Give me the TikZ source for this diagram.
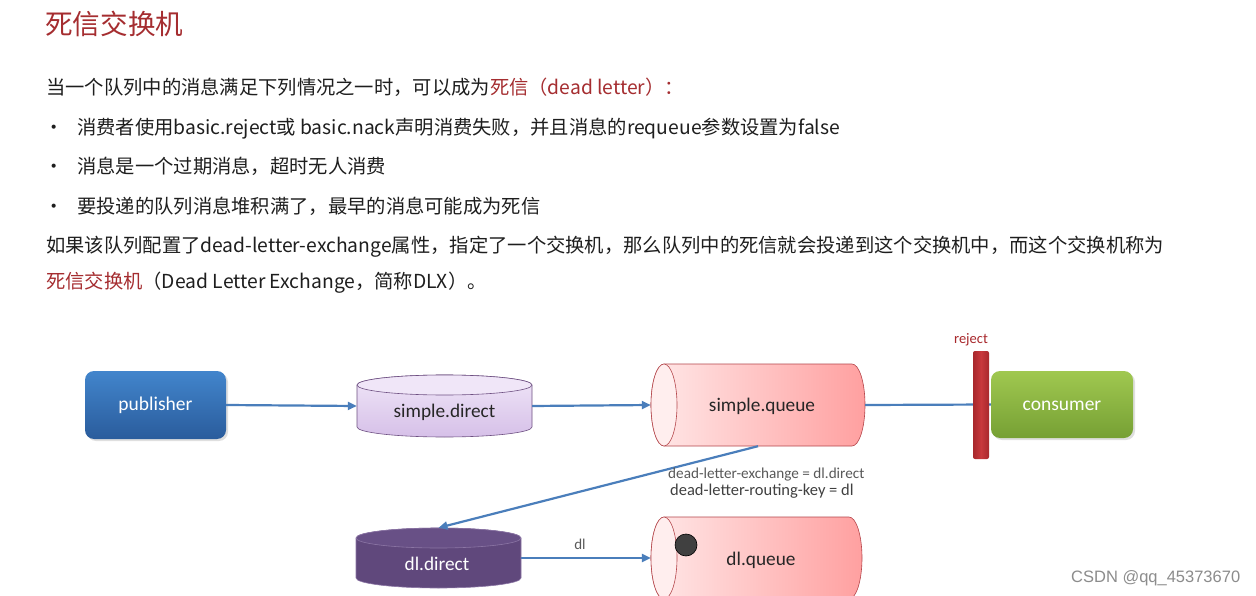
\documentclass[tikz,border=0pt]{standalone}
\usepackage{fontspec}
\setmainfont{Noto Sans CJK SC}
\newfontfamily\diagfont{Carlito}
\newfontfamily\wmfont{Liberation Sans}
\usetikzlibrary{arrows.meta,shadows}
\definecolor{titlered}{RGB}{165,45,48}
\definecolor{txt}{RGB}{30,30,30}
\definecolor{connblue}{RGB}{74,126,187}
\definecolor{pubtop}{RGB}{66,133,204}
\definecolor{pubbot}{RGB}{42,92,156}
\definecolor{constop}{RGB}{160,200,80}
\definecolor{consbot}{RGB}{118,160,52}
\definecolor{rejred}{RGB}{200,56,60}
\definecolor{rejdark}{RGB}{168,40,44}
\definecolor{qborder}{RGB}{180,70,75}
\definecolor{qlight}{RGB}{255,232,232}
\definecolor{qdark}{RGB}{255,160,160}
\definecolor{qface}{RGB}{255,238,238}
\definecolor{sdtop}{RGB}{240,230,248}
\definecolor{sdbot}{RGB}{214,192,232}
\definecolor{sdborder}{RGB}{110,80,130}
\definecolor{ddfill}{RGB}{96,72,124}
\definecolor{ddface}{RGB}{104,80,134}
\definecolor{ddborder}{RGB}{140,118,165}
\begin{document}
\begin{tikzpicture}[x=1pt,y=-1pt,
  bodytext/.style={anchor=base west, inner sep=0pt, font=\fontsize{19.3}{23}\selectfont, text=txt},
  conn/.style={draw=connblue, line width=2.2pt, -{Triangle[length=9pt,width=8pt]}},
  plainconn/.style={draw=connblue, line width=2.2pt},
  boxnode/.style={rounded corners=9pt, inner sep=0pt, text=white,
    font=\diagfont\fontsize{19.5}{21}\selectfont, text height=1.25em, text depth=0.1em,
    drop shadow={opacity=0.25, shadow xshift=2pt, shadow yshift=-2pt}},
  helper/.style={inner sep=0pt},
  dtext/.style={inner sep=0pt, font=\diagfont\fontsize{19.3}{21}\selectfont, text height=1.25em, text depth=0.1em},
  qbody/.style={left color=qlight, right color=qdark, draw=qborder, line width=0.6pt},
  qface/.style={fill=qface, draw=qborder, line width=0.6pt}
]
\useasboundingbox (0,0) rectangle (1256,596);
\fill[white] (0,0) rectangle (1256,596);

% ---------- text ----------
\node[anchor=base west, inner sep=0pt, font=\fontsize{27.6}{32}\selectfont, text=titlered] (title) at (45,35) {死信交换机};
\node[bodytext] (t1) at (46,95) {当一个队列中的消息满足下列情况之一时，可以成为\textcolor{titlered}{死信（dead letter）：}};
\node[bodytext] (b1) at (44,135) {•};
\node[bodytext] (t2) at (77,135) {消费者使用basic.reject或 basic.nack声明消费失败，并且消息的requeue参数设置为false};
\node[bodytext] (b2) at (44,174) {•};
\node[bodytext] (t3) at (77,174) {消息是一个过期消息，超时无人消费};
\node[bodytext] (b3) at (44,214) {•};
\node[bodytext] (t4) at (77,214) {要投递的队列消息堆积满了，最早的消息可能成为死信};
\node[bodytext] (t5) at (46,253) {如果该队列配置了dead-letter-exchange属性，指定了一个交换机，那么队列中的死信就会投递到这个交换机中，而这个交换机称为};
\node[bodytext] (t6) at (46,288) {\textcolor{titlered}{死信交换机}（Dead Letter Exchange，简称DLX）。};

% ---------- shapes ----------
% simple.direct (vertical cylinder)
\path[top color=sdtop, bottom color=sdbot, draw=sdborder, line width=0.6pt]
  (357,385) -- (357,427) arc[start angle=180,end angle=360,x radius=87.5pt,y radius=10pt]
  -- (532,385) arc[start angle=0,end angle=180,x radius=87.5pt,y radius=10pt] -- cycle;
\draw[fill=sdtop, draw=sdborder, line width=0.6pt] (444.5,385) ellipse[x radius=87.5pt, y radius=10pt];
\node[helper, minimum width=175pt, minimum height=62pt] (sd) at (444.5,406) {};

% simple.queue (horizontal cylinder)
\path[qbody] (664,364) -- (852,364) arc[start angle=90,end angle=-90,x radius=13pt,y radius=41pt]
  -- (664,446) arc[start angle=270,end angle=90,x radius=13pt,y radius=41pt] -- cycle;
\draw[qface] (664,405) ellipse[x radius=13pt, y radius=41pt];
\node[helper, minimum width=214pt, minimum height=82pt] (sq) at (758,405) {};

% dl.direct (vertical cylinder)
\path[fill=ddfill, draw=ddborder, line width=0.6pt]
  (356,538) -- (356,578) arc[start angle=180,end angle=360,x radius=82.5pt,y radius=10pt]
  -- (521,538) arc[start angle=0,end angle=180,x radius=82.5pt,y radius=10pt] -- cycle;
\draw[fill=ddface, draw=ddborder, line width=0.6pt] (438.5,538) ellipse[x radius=82.5pt, y radius=10pt];
\node[helper, minimum width=165pt, minimum height=60pt] (dd) at (438.5,558) {};

% dl.queue (horizontal cylinder, cut by the bottom edge)
\begin{scope}
\clip (0,0) rectangle (1256,596);
\path[qbody] (664,517) -- (849,517) arc[start angle=90,end angle=-90,x radius=13pt,y radius=41pt]
  -- (664,599) arc[start angle=270,end angle=90,x radius=13pt,y radius=41pt] -- cycle;
\draw[qface] (664,558) ellipse[x radius=13pt, y radius=41pt];
\end{scope}
\node[helper, minimum width=211pt, minimum height=82pt] (dq) at (756.5,558) {};
\node[circle, fill=black!75, draw=black, line width=0.6pt, minimum size=22pt, inner sep=0pt] (msg) at (686,545) {};

% publisher / consumer
\node[boxnode, top color=pubtop, bottom color=pubbot, minimum width=141pt, minimum height=68pt] (pub) at (155.5,405) {publisher};
\node[boxnode, top color=constop, bottom color=consbot, minimum width=142pt, minimum height=67pt] (cons) at (1062,404.5) {consumer};

% ---------- connectors ----------
\draw[conn] (pub.east) -- (sd.west);
\draw[conn] (sd.east) -- (sq.west);
\draw[plainconn] (sq.east) -- (cons.west);
\draw[conn] (sq.south) -- (dd.north);
\draw[conn] (dd.east) -- (dq.west);

% reject bar
\node[rounded corners=2pt, left color=rejdark, right color=rejdark, middle color=rejred, minimum width=16pt, minimum height=108pt, inner sep=0pt] (bar) at (981,405) {};
\node[inner sep=0pt, font=\diagfont\fontsize{14.5}{16}\selectfont, text=rejdark] (rej) at (971,340) {reject};

% ---------- labels in diagram ----------
\node[dtext, text=black!85] (sdt) at (444.5,412) {simple.direct};
\node[dtext, text=black!85] (sqt) at (762,406) {simple.queue};
\node[dtext, text=white] (ddt) at (437,565) {dl.direct};
\node[dtext, text=black!85] (dqt) at (761,560) {dl.queue};
\node[anchor=west, inner sep=0pt, font=\diagfont\fontsize{15.2}{17}\selectfont, text=black!65] (l1) at (668,475) {dead-letter-exchange = dl.direct};
\node[anchor=west, inner sep=0pt, font=\diagfont\fontsize{16.5}{18}\selectfont, text=black!75] (l2) at (670,491) {dead-letter-routing-key = dl};
\node[inner sep=0pt, font=\diagfont\fontsize{15}{16}\selectfont, text=black!65] (dll) at (580,544) {dl};

% watermark
\node[anchor=west, inner sep=0pt, font=\wmfont\fontsize{16.5}{18}\selectfont, text=black!45] (wm) at (1071,578) {CSDN @qq\_45373670};
\end{tikzpicture}
\end{document}
